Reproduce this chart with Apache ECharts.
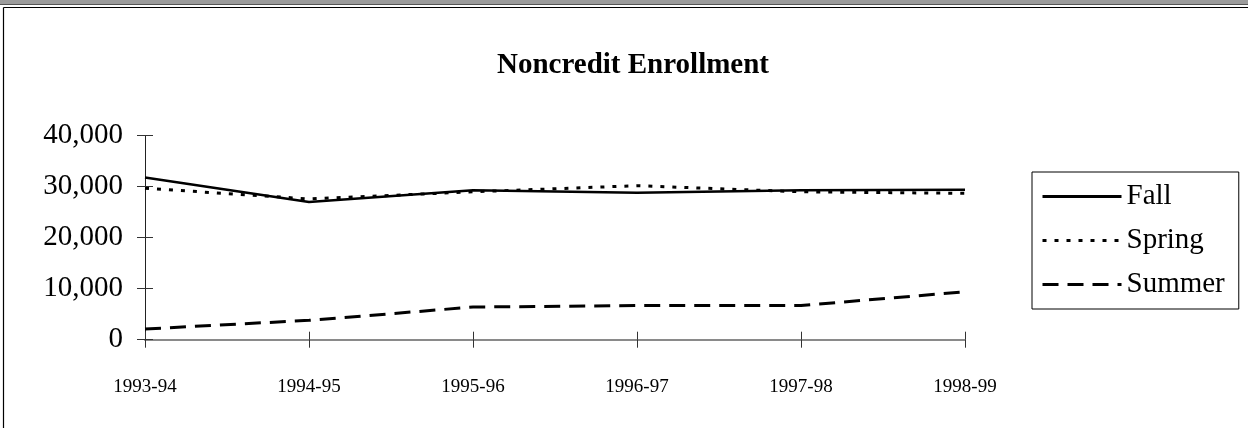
<!DOCTYPE html>
<html>
<head>
<meta charset="utf-8">
<script src="https://cdn.jsdelivr.net/npm/echarts@6/dist/echarts.min.js"></script>
<style>
html,body{margin:0;padding:0;background:#fff;}
#chart{width:1248px;height:428px;}
</style>
</head>
<body>
<div id="chart"></div>
<script>
const categories = ['1993-94', '1994-95', '1995-96', '1996-97', '1997-98', '1998-99'];
const fallValues = [31800, 27000, 29300, 28800, 29300, 29400];
const springValues = [29700, 27600, 29000, 30200, 29000, 28700];
const summerValues = [2100, 3800, 6400, 6700, 6700, 9400];
const yTicks = { min: 0, max: 40000, interval: 10000 };
const titleText = 'Noncredit Enrollment';
const seriesNames = ['Fall', 'Spring', 'Summer'];

const FONT = '"Liberation Serif", "Times New Roman", serif';
const chart = echarts.init(document.getElementById('chart'), null, { renderer: 'canvas' });

const baseX = {
  type: 'category', data: categories, boundaryGap: false, position: 'bottom'
};
const baseY = {
  type: 'value', min: yTicks.min, max: yTicks.max, interval: yTicks.interval, position: 'left'
};

chart.setOption({
  animation: false,
  backgroundColor: '#fff',
  title: {
    text: titleText, left: 628, top: 46, textAlign: 'center',
    textStyle: { fontFamily: FONT, fontWeight: 'bold', fontSize: 29, color: '#000' }
  },
  graphic: [
    { type: 'rect', shape: { x: 0, y: 0, width: 1248, height: 4 }, style: { fill: '#9c9c9c' }, silent: true },
    { type: 'line', shape: { x1: 0, y1: 4.5, x2: 1248, y2: 4.5 }, style: { stroke: '#555', lineWidth: 1 }, silent: true },
    { type: 'line', shape: { x1: 3.5, y1: 7.5, x2: 1248, y2: 7.5 }, style: { stroke: '#000', lineWidth: 1.2 }, silent: true },
    { type: 'line', shape: { x1: 3.5, y1: 7.5, x2: 3.5, y2: 428 }, style: { stroke: '#000', lineWidth: 1.2 }, silent: true }
  ],
  legend: {
    orient: 'vertical', left: 1032, top: 172,
    data: seriesNames,
    itemWidth: 79, itemHeight: 12, itemGap: 15,
    padding: [10, 14, 10, 9],
    borderColor: '#000', borderWidth: 1,
    itemStyle: { opacity: 0 },
    lineStyle: { width: 3 },
    textStyle: { fontFamily: FONT, fontSize: 29, color: '#000' }
  },
  grid: { left: 145, right: 283, top: 135.7, bottom: 88.3, containLabel: false },
  xAxis: [
    Object.assign({}, baseX, {
      axisLine: { show: true, lineStyle: { color: '#8a8a8a', width: 2 } },
      axisTick: { show: true, inside: false, length: 8, lineStyle: { color: '#333', width: 1 } },
      axisLabel: { margin: 38, fontFamily: FONT, fontSize: 19, color: '#000' },
      splitLine: { show: false }
    }),
    Object.assign({}, baseX, {
      axisLine: { show: false },
      axisTick: { show: true, inside: true, length: 8, lineStyle: { color: '#333', width: 1 } },
      axisLabel: { show: false },
      splitLine: { show: false }
    })
  ],
  yAxis: [
    Object.assign({}, baseY, {
      axisLine: { show: true, lineStyle: { color: '#222', width: 1 } },
      axisTick: { show: true, inside: false, length: 8, lineStyle: { color: '#333', width: 1 } },
      axisLabel: {
        margin: 22, fontFamily: FONT, fontSize: 29, color: '#000',
        formatter: v => v.toLocaleString('en-US')
      },
      splitLine: { show: false }
    }),
    Object.assign({}, baseY, {
      axisLine: { show: false },
      axisTick: { show: true, inside: true, length: 8, lineStyle: { color: '#333', width: 1 } },
      axisLabel: { show: false },
      splitLine: { show: false }
    })
  ],
  series: [
    {
      name: seriesNames[0], type: 'line', data: fallValues, xAxisIndex: 0, yAxisIndex: 0,
      symbol: 'none', z: 3,
      lineStyle: { color: '#000', width: 2.5, type: 'solid' },
      itemStyle: { color: '#000' }
    },
    {
      name: seriesNames[1], type: 'line', data: springValues, xAxisIndex: 0, yAxisIndex: 0,
      symbol: 'none', z: 4,
      lineStyle: { color: '#000', width: 3, type: [4, 8] },
      itemStyle: { color: '#000' }
    },
    {
      name: seriesNames[2], type: 'line', data: summerValues, xAxisIndex: 0, yAxisIndex: 0,
      symbol: 'none', z: 3,
      lineStyle: { color: '#000', width: 3, type: [16, 9] },
      itemStyle: { color: '#000' }
    }
  ]
});
</script>
</body>
</html>
